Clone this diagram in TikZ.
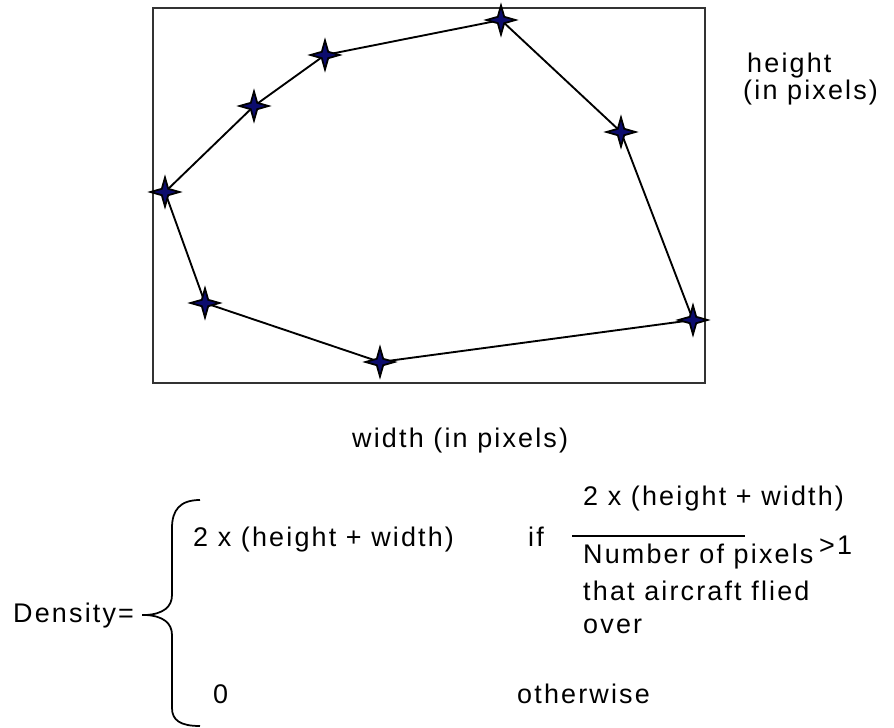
\documentclass[tikz,border=0pt]{standalone}
\usepackage{fontspec}
\setmainfont{Liberation Sans}[LetterSpace=8]
\usetikzlibrary{shapes.geometric}
\definecolor{starblue}{RGB}{12,12,110}

\begin{document}
\begin{tikzpicture}[x=0.03cm,y=-0.03cm,
    txt/.style={anchor=base west,inner sep=0pt,font=\fontsize{23}{28}\selectfont},
    fixmark/.style={star,star points=4,star point ratio=3.2,minimum size=0.87cm,
      inner sep=0pt,draw=black,line width=1.5pt,fill=starblue}]
  \useasboundingbox (0,0) rectangle (894,728);
  % frame of the flight area
  \draw[line width=1.4pt,black!80] (153,8) rectangle (705,383);
  \coordinate (p1) at (165,192);
  \coordinate (p2) at (254,106);
  \coordinate (p3) at (325,55);
  \coordinate (p4) at (501,20);
  \coordinate (p5) at (621,132);
  \coordinate (p6) at (693,320);
  \coordinate (p7) at (380,362);
  \coordinate (p8) at (205,303);
  \draw[line width=1.6pt] (p1)--(p2)--(p3)--(p4)--(p5)--(p6)--(p7)--(p8)--cycle;
  \foreach \p in {p1,p2,p3,p4,p5,p6,p7,p8}{\node[fixmark] (m\p) at (\p) {};}
  \node[txt] (hlab) at (747,72) {height};
  \node[txt] (hunit) at (743,99) {(in pixels)};
  \node[txt] (wlab) at (352,447) {width (in pixels)};
  % density formula
  \node[txt] (dens) at (13,622) {Density=};
  \draw[line width=1.5pt] (200,500) .. controls (180,500) and (172,510) .. (172,528)
    -- (172,595) .. controls (172,607) and (163,614) .. (146,615)
    .. controls (163,616) and (172,623) .. (172,635) -- (172,708)
    .. controls (172,720) and (180,726) .. (200,726);
  \draw[line width=1.5pt] (146,615) -- (142,615);
  \node[txt] (case1) at (193,546) {2 x (height + width)};
  \node[txt] (ifw) at (528,546) {if};
  \node[txt] (numer) at (583,505) {2 x (height + width)};
  \draw[line width=1pt] (572,536) -- (745,536);
  \node[txt] (denom1) at (583,563) {Number of pixels};
  \node[txt] (denom2) at (583,600) {that aircraft flied};
  \node[txt] (denom3) at (583,633) {over};
  \node[txt] (gt) at (819,554) {>1};
  \node[txt] (case0) at (213,703) {0};
  \node[txt] (other) at (517,703) {otherwise};
\end{tikzpicture}
\end{document}
